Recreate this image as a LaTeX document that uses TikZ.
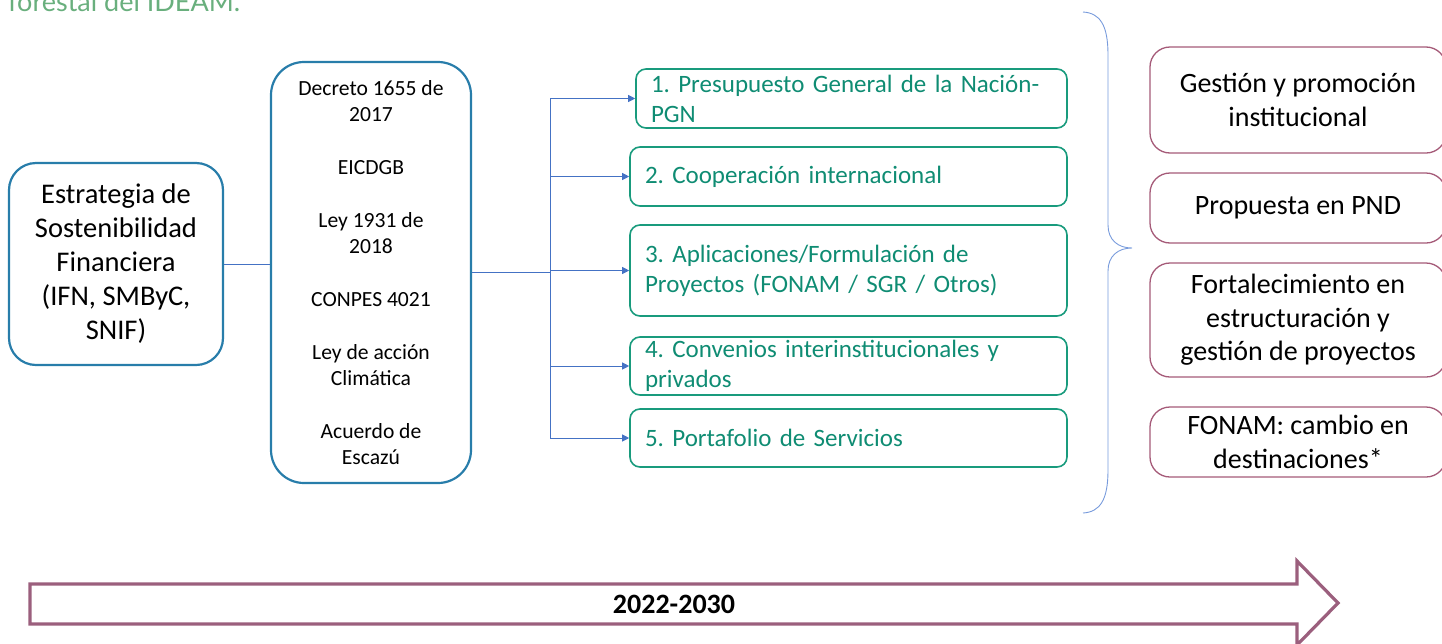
\documentclass[tikz,border=0pt]{standalone}
\usepackage{fontspec}
\setmainfont{Carlito}
\newfontfamily\latofont{Lato}
\usetikzlibrary{arrows.meta}
\definecolor{blueline}{RGB}{40,125,170}
\definecolor{greenline}{RGB}{25,155,125}
\definecolor{greentext}{RGB}{15,140,115}
\definecolor{maroonline}{RGB}{165,90,120}
\definecolor{conncol}{RGB}{68,114,196}
\definecolor{bracecol}{RGB}{120,155,220}
\definecolor{titlegreen}{RGB}{105,175,125}
\definecolor{arrowcol}{RGB}{155,95,125}
\frenchspacing
\begin{document}
\begin{tikzpicture}[x=1pt,y=-1pt,
  bbox/.style={draw=blueline,line width=2.2pt,align=center,inner sep=0pt},
  gbox/.style={draw=greenline,line width=1.6pt,rounded corners=10pt,align=left,
    inner xsep=15pt,inner ysep=0pt,minimum height=59pt,text=greentext,
    font=\fontsize{25}{30}\selectfont},
  rbox/.style={draw=maroonline,line width=1.3pt,rounded corners=20pt,align=center,
    inner sep=0pt,minimum width=296pt,font=\fontsize{28}{33.5}\selectfont},
  conn/.style={draw=conncol,line width=1pt},
  connarrow/.style={conn,-{Triangle[length=7pt,width=7pt]}}
]
\useasboundingbox (0,0) rectangle (1442,643);
\clip (0,0) rectangle (1442,643);

% title fragment
\node[anchor=base west,inner sep=0pt,text=titlegreen,font=\latofont\fontsize{27}{30}\selectfont] (title) at (8,11) {forestal del IDEAM.};

% left box
\node[bbox,rounded corners=27pt,minimum width=214pt,minimum height=202pt,
  font=\fontsize{28.5}{34}\selectfont] (left) at (116,264)
  {Estrategia de\\Sostenibilidad\\Financiera\\(IFN, SMByC,\\SNIF)};

% middle box
\node[bbox,rounded corners=33pt,minimum width=200pt,minimum height=421pt,
  font=\fontsize{21.6}{26}\selectfont] (mid) at (371,272.5)
  {Decreto 1655 de\\2017\\[27pt]EICDGB\\[27pt]Ley 1931 de\\2018\\[27pt]CONPES 4021\\[27pt]Ley de acción\\Climática\\[27pt]Acuerdo de\\Escazú};

% green boxes
\node[gbox,minimum width=431pt,text width=401pt] (g1) at (851.5,98.5)
  {1. Presupuesto General de la Nación-\\PGN};
\node[gbox,minimum width=437pt,text width=407pt] (g2) at (848.5,176.5)
  {2. Cooperación internacional};
\node[gbox,minimum width=437pt,text width=407pt,minimum height=91pt] (g3) at (848.5,270.5)
  {3. Aplicaciones/Formulación de\\Proyectos (FONAM / SGR / Otros)};
\node[gbox,minimum width=437pt,text width=407pt,minimum height=58pt] (g4) at (848.5,366)
  {4. Convenios interinstitucionales y\\privados};
\node[gbox,minimum width=437pt,text width=407pt,minimum height=58pt] (g5) at (848.5,438)
  {5. Portafolio de Servicios};

% connectors
\coordinate (trunk) at (550,271);
\draw[conn] (left.east) -- (left.east -| mid.west);
\draw[conn] (mid.east) -- (mid.east -| trunk);
\draw[conn] (g1.west -| trunk) -- (g5.west -| trunk);
\foreach \g in {g1,g2,g3,g4,g5}{
  \draw[connarrow] (\g.west -| trunk) -- (\g.west);
}

% brace
\draw[bracecol,line width=0.9pt]
  (1083,12) .. controls (1100,13) and (1108,25) .. (1108,55)
  -- (1108,225) .. controls (1108,240) and (1118,248) .. (1132,248)
  .. controls (1118,248) and (1108,256) .. (1108,271)
  -- (1108,470) .. controls (1108,500) and (1100,512) .. (1083,513);

% right boxes
\node[rbox,minimum height=106pt] (r1) at (1298,100) {Gestión y promoción\\institucional};
\node[rbox,minimum height=70pt] (r2) at (1298,208) {Propuesta en PND};
\node[rbox,minimum height=114pt] (r3) at (1298,320) {Fortalecimiento en\\estructuración y\\gestión de proyectos};
\node[rbox,minimum height=70pt] (r4) at (1298,442) {FONAM: cambio en\\destinaciones*};

% timeline arrow
\draw[arrowcol,line width=3.2pt,line join=miter]
  (30,584) -- (1297,584) -- (1297,561) -- (1338,603) -- (1297,645) -- (1297,624) -- (30,624) -- cycle;
\node[font=\bfseries\fontsize{28}{30}\selectfont,inner sep=0pt] (tl) at (674,604) {2022-2030};
\end{tikzpicture}
\end{document}
